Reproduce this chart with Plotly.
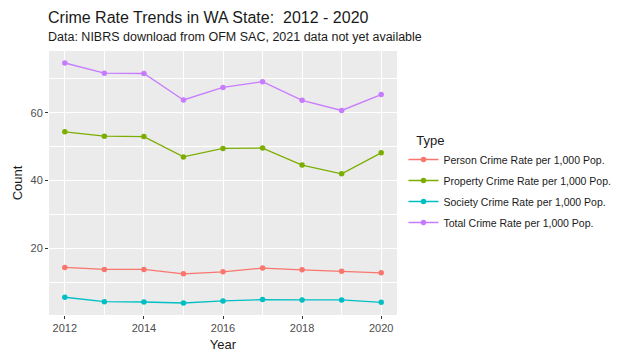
import plotly.graph_objects as go

years = [2012, 2013, 2014, 2015, 2016, 2017, 2018, 2019, 2020]
person = [14.4, 13.8, 13.8, 12.5, 13.1, 14.2, 13.7, 13.3, 12.8]
property_ = [54.4, 53.1, 53.0, 47.0, 49.5, 49.6, 44.6, 42.0, 48.2]
society = [5.6, 4.3, 4.2, 3.9, 4.5, 4.9, 4.8, 4.8, 4.1]
total = [74.7, 71.7, 71.6, 63.8, 67.5, 69.2, 63.7, 60.7, 65.4]

series_names = [
    "Person Crime Rate per 1,000 Pop.",
    "Property Crime Rate per 1,000 Pop.",
    "Society Crime Rate per 1,000 Pop.",
    "Total Crime Rate per 1,000 Pop.",
]
series_values = [person, property_, society, total]
colors = ["#F8766D", "#7CAE00", "#00BFC4", "#C77CFF"]

FONT = "Liberation Sans, Arial, sans-serif"

fig = go.Figure()
for i, (name, vals, col) in enumerate(zip(series_names, series_values, colors)):
    fig.add_trace(go.Scatter(
        x=years, y=vals, name=name, mode="lines+markers",
        legendgroup="g%d" % i,
        line=dict(color=col, width=1.3),
        marker=dict(color=col, size=5.5),
    ))

fig.update_layout(
    width=616, height=348,
    margin=dict(l=41, r=227, t=43, b=41),
    paper_bgcolor="white",
    plot_bgcolor="#EBEBEB",
    font=dict(family=FONT, color="#1A1A1A"),
    showlegend=True,
    legend=dict(
        title=dict(text="&nbsp;&nbsp;&nbsp;Type", font=dict(size=13, color="#1A1A1A")),
        xref="container", x=0.642, xanchor="left",
        yref="paper", y=0.708, yanchor="top",
        font=dict(size=10.5, color="#1A1A1A"),
        bgcolor="rgba(0,0,0,0)", itemwidth=30,
        traceorder="grouped",
        tracegroupgap=2,
    ),
)

fig.update_xaxes(
    range=[2011.6, 2020.4],
    tickvals=[2012, 2014, 2016, 2018, 2020],
    automargin=False,
    showgrid=True, gridcolor="white", gridwidth=1.1,
    minor=dict(tickvals=[2013, 2015, 2017, 2019], showgrid=True, gridcolor="white", gridwidth=0.5),
    zeroline=False,
    ticks="outside", ticklen=3, tickcolor="#333333",
    tickfont=dict(size=11, color="#4D4D4D"),
    title=dict(text="Year", font=dict(size=13, color="#1A1A1A"), standoff=6),
)
fig.update_yaxes(
    range=[0.36, 78.24],
    tickvals=[20, 40, 60],
    automargin=False,
    showgrid=True, gridcolor="white", gridwidth=1.1,
    minor=dict(tickvals=[10, 30, 50, 70], showgrid=True, gridcolor="white", gridwidth=0.5),
    zeroline=False,
    ticks="outside", ticklen=3, tickcolor="#333333",
    tickfont=dict(size=11, color="#4D4D4D"),
    title=dict(text="Count", font=dict(size=13, color="#1A1A1A"), standoff=4),
)

fig.add_annotation(
    text="Crime Rate Trends in WA State:  2012 - 2020",
    xref="paper", yref="paper", x=0, y=1, xanchor="left", yanchor="bottom",
    xshift=-3, yshift=23, showarrow=False, font=dict(size=16, color="#1A1A1A", family=FONT),
)
fig.add_annotation(
    text="Data: NIBRS download from OFM SAC, 2021 data not yet available",
    xref="paper", yref="paper", x=0, y=1, xanchor="left", yanchor="bottom",
    xshift=-3, yshift=5, showarrow=False, font=dict(size=12.5, color="#1A1A1A", family=FONT),
)

fig.write_html("out.html")
